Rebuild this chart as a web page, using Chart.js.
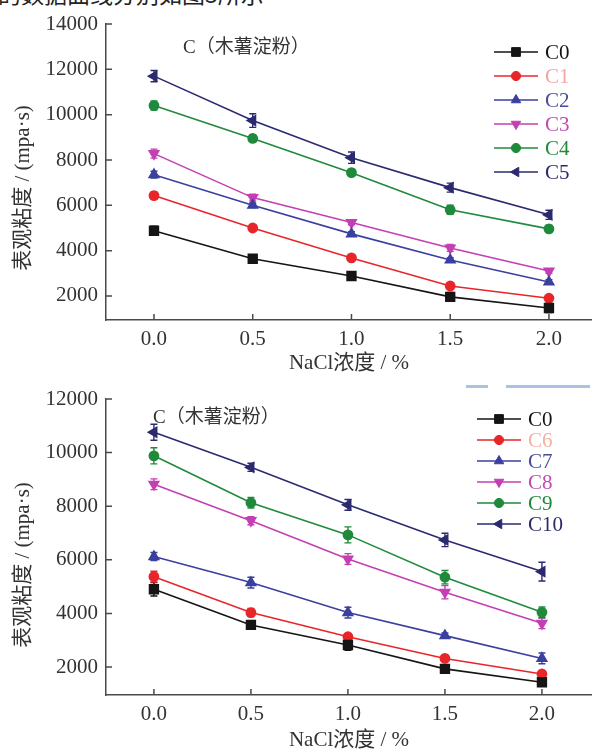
<!DOCTYPE html>
<html>
<head>
<meta charset="utf-8">
<script src="https://cdn.jsdelivr.net/npm/chart.js@4.4.0/dist/chart.umd.min.js"></script>
<style>
  body { margin: 0; background: #fff; width: 592px; height: 749px; overflow: hidden; position: relative; }
  #cap { position: absolute; left: -2px; top: -18px; font-size: 23px; line-height: 23px; color: #222; white-space: nowrap; font-family: "Noto Sans CJK SC"; }
  #topChart { position: absolute; left: 0; top: 0; }
  #botChart { position: absolute; left: 0; top: 372px; }
  .smear { position: absolute; background: #a9c1e3; height: 3px; }
</style>
</head>
<body>
<div id="cap">的数据曲线分别如图3所示</div>
<canvas id="topChart" width="592" height="372"></canvas>
<canvas id="botChart" width="592" height="377"></canvas>
<div class="smear" style="left:466px;top:385px;width:22px;"></div>
<div class="smear" style="left:506px;top:385px;width:84px;"></div>
<script>
// NaCl concentration (%) on the x axis
const nacl = [0.0, 0.5, 1.0, 1.5, 2.0];
const xTicks = [0.0, 0.5, 1.0, 1.5, 2.0];
const yTicksTop = [2000, 4000, 6000, 8000, 10000, 12000, 14000];
const yTicksBot = [2000, 4000, 6000, 8000, 10000, 12000];

// top chart: apparent viscosity (mpa·s)
const topNames = ['C0', 'C1', 'C2', 'C3', 'C4', 'C5'];
const c0Top = [4880, 3640, 2880, 1960, 1470];
const c1 = [6430, 5000, 3680, 2440, 1900];
const c2 = [7350, 6000, 4740, 3590, 2620];
const c3 = [8280, 6340, 5240, 4120, 3100];
const c4 = [10400, 8950, 7440, 5800, 4960];
const c5 = [11700, 9740, 8100, 6780, 5580];
const errTop = [
  [200, 100, 100, 200, 200],
  [150, 150, 100, 150, 100],
  [150, 100, 100, 100, 100],
  [200, 150, 100, 150, 100],
  [200, 150, 150, 200, 150],
  [250, 300, 250, 200, 200]
];

// bottom chart
const botNames = ['C0', 'C6', 'C7', 'C8', 'C9', 'C10'];
const c0Bot = [4900, 3570, 2820, 1930, 1430];
const c6 = [5370, 4030, 3130, 2320, 1740];
const c7 = [6120, 5150, 4030, 3170, 2320];
const c8 = [8820, 7460, 6030, 4790, 3630];
const c9 = [9880, 8130, 6930, 5350, 4040];
const c10 = [10760, 9450, 8050, 6740, 5560];
const errBot = [
  [250, 150, 200, 150, 150],
  [200, 150, 100, 100, 100],
  [150, 200, 200, 100, 200],
  [200, 150, 200, 250, 200],
  [300, 200, 300, 250, 200],
  [300, 150, 200, 250, 350]
];

const xTitle = 'NaCl浓度 / %';
const yTitle = '表观粘度 / (mpa·s)';

// styles for the six series of each panel
const lineColors = ['#151515', '#e8262a', '#3b3fa0', '#c43fb4', '#1f8a3c', '#2b2a70'];
const textColorsTop = ['#151515', '#f2a6a6', '#4b4b9b', '#c04caf', '#218a3a', '#2a2a6a'];
const textColorsBot = ['#151515', '#f3b2a2', '#4b4b9b', '#c04caf', '#218a3a', '#2a2a6a'];
const marks = [
  { style: 'rect', rot: 0, r: 6.2 },
  { style: 'circle', rot: 0, r: 4.6 },
  { style: 'triangle', rot: 0, r: 5.5 },
  { style: 'triangle', rot: 180, r: 5.5 },
  { style: 'circle', rot: 0, r: 4.6 },
  { style: 'triangle', rot: 270, r: 5.5 }
];

const serif = '"Liberation Serif", "Noto Sans CJK SC", serif';
const axisColor = '#4a4a4a';

// error bars, inward ticks, axis titles, in-plot title and the line+marker legend
const decor = {
  id: 'decor',
  beforeDatasetsDraw(chart) {
    const ctx = chart.ctx, xs = chart.scales.x, ys = chart.scales.y;
    ctx.save();
    ctx.lineWidth = 1.4;
    chart.data.datasets.forEach(ds => {
      ctx.strokeStyle = ds.borderColor;
      ds.data.forEach((p, j) => {
        const e = ds.err[j];
        const px = xs.getPixelForValue(p.x);
        const y1 = ys.getPixelForValue(p.y + e), y2 = ys.getPixelForValue(p.y - e);
        ctx.beginPath();
        ctx.moveTo(px, y1); ctx.lineTo(px, y2);
        ctx.moveTo(px - 3.5, y1); ctx.lineTo(px + 3.5, y1);
        ctx.moveTo(px - 3.5, y2); ctx.lineTo(px + 3.5, y2);
        ctx.stroke();
      });
    });
    ctx.restore();
  },
  afterDraw(chart, args, opts) {
    const ctx = chart.ctx, xs = chart.scales.x, ys = chart.scales.y, a = chart.chartArea;
    ctx.save();
    ctx.strokeStyle = axisColor;
    ctx.lineWidth = 1.5;
    ctx.beginPath();
    ys.ticks.forEach(t => {
      const py = ys.getPixelForValue(t.value);
      ctx.moveTo(a.left, py); ctx.lineTo(a.left + 6, py);
    });
    xs.ticks.forEach(t => {
      const px = xs.getPixelForValue(t.value);
      ctx.moveTo(px, a.bottom); ctx.lineTo(px, a.bottom - 6);
    });
    ctx.stroke();

    // axis titles
    ctx.fillStyle = '#333';
    ctx.font = '21px ' + serif;
    ctx.textAlign = 'center';
    ctx.textBaseline = 'middle';
    ctx.fillText(xTitle, (a.left + a.right) / 2, opts.xTitleY);
    ctx.save();
    ctx.translate(23, (a.top + a.bottom) / 2 + opts.yTitleShift);
    ctx.rotate(-Math.PI / 2);
    ctx.fillText(yTitle, 0, 0);
    ctx.restore();

    // panel title
    ctx.font = '19px ' + serif;
    ctx.textAlign = 'left';
    ctx.fillText(opts.title, opts.titleX, opts.titleY);

    // legend
    chart.data.datasets.forEach((ds, i) => {
      const ly = opts.legY + i * opts.legStep;
      ctx.strokeStyle = ds.borderColor;
      ctx.lineWidth = 1.5;
      ctx.beginPath();
      ctx.moveTo(opts.legX, ly); ctx.lineTo(opts.legX + 44, ly);
      ctx.stroke();
      ctx.fillStyle = ds.pointBackgroundColor;
      ctx.lineWidth = 1;
      Chart.helpers.drawPoint(ctx, { pointStyle: ds.pointStyle, rotation: ds.pointRotation, radius: ds.pointRadius, borderWidth: 1 }, opts.legX + 22, ly);
      ctx.fillStyle = ds.textColor;
      ctx.font = '21px ' + serif;
      ctx.textAlign = 'left';
      ctx.fillText(ds.label, opts.legX + 51, ly + 1);
    });
    ctx.restore();
  }
};

function buildSets(names, series, errs, textColors) {
  return names.map((n, i) => ({
    label: n,
    data: nacl.map((c, j) => ({ x: c, y: series[i][j] })),
    err: errs[i],
    textColor: textColors[i],
    borderColor: lineColors[i],
    backgroundColor: lineColors[i],
    pointBackgroundColor: lineColors[i],
    pointBorderColor: lineColors[i],
    pointStyle: marks[i].style,
    pointRotation: marks[i].rot,
    pointRadius: marks[i].r,
    borderWidth: 1.6,
    tension: 0
  }));
}

function makeChart(id, sets, yMin, yMax, yTicks, xMin, xMax, padTop, xHeight, deco) {
  return new Chart(document.getElementById(id), {
    type: 'line',
    data: { datasets: sets },
    options: {
      responsive: false,
      animation: false,
      layout: { autoPadding: false, padding: { top: padTop, left: 0, right: 0, bottom: 0 } },
      plugins: { legend: { display: false }, tooltip: { enabled: false }, decor: deco },
      scales: {
        x: {
          type: 'linear', min: xMin, max: xMax,
          afterBuildTicks: s => { s.ticks = xTicks.map(v => ({ value: v })); },
          afterFit: s => { s.height = xHeight; s.paddingLeft = 0; s.paddingRight = 0; },
          grid: { display: false, drawTicks: false, tickLength: 0 },
          border: { display: true, color: axisColor, width: 1.5 },
          ticks: { color: '#333', padding: 7, font: { family: serif, size: 21 }, callback: v => v.toFixed(1) }
        },
        y: {
          min: yMin, max: yMax,
          afterBuildTicks: s => { s.ticks = yTicks.map(v => ({ value: v })); },
          afterFit: s => { s.width = 106; s.paddingTop = 0; s.paddingBottom = 0; },
          grid: { display: false, drawTicks: false, tickLength: 0 },
          border: { display: true, color: axisColor, width: 1.5 },
          ticks: { color: '#333', padding: 8, font: { family: serif, size: 21 }, callback: v => String(v) }
        }
      }
    },
    plugins: [decor]
  });
}

makeChart('topChart',
  buildSets(topNames, [c0Top, c1, c2, c3, c4, c5], errTop, textColorsTop),
  940, 14000, yTicksTop, -0.243, 2.218, 24, 52,
  { title: 'C（木薯淀粉）', titleX: 183, titleY: 48, legX: 494, legY: 52, legStep: 24, xTitleY: 363, yTitleShift: 16 });

makeChart('botChart',
  buildSets(botNames, [c0Bot, c6, c7, c8, c9, c10], errBot, textColorsBot),
  955, 12000, yTicksBot, -0.247, 2.258, 27, 54,
  { title: 'C（木薯淀粉）', titleX: 153, titleY: 46, legX: 477, legY: 47, legStep: 21, xTitleY: 368, yTitleShift: 18 });
</script>
</body>
</html>
